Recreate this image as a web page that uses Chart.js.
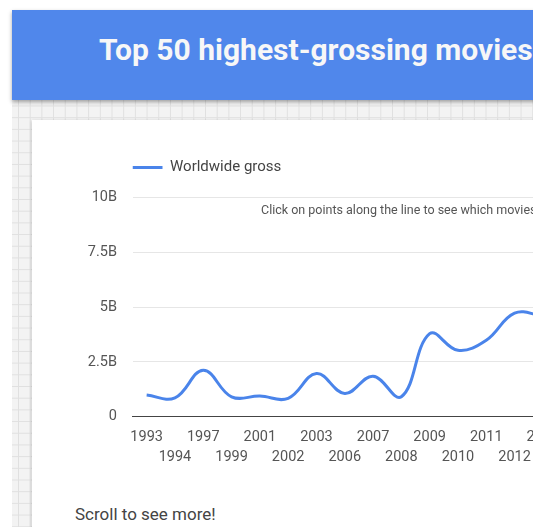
<!DOCTYPE html>
<html>
<head>
<meta charset="utf-8">
<title>Top 50 highest-grossing movies</title>
<script src="https://cdn.jsdelivr.net/npm/chart.js@4.4.0/dist/chart.umd.min.js"></script>
<style>
html, body { margin: 0; padding: 0; width: 533px; height: 527px; overflow: hidden; background: #fff; font-family: Roboto, sans-serif; }
#paper {
  position: absolute; left: 12px; top: 10px; width: 620px; height: 620px;
  background-color: #f3f3f3;
  background-image: linear-gradient(#e0e0e0 1px, transparent 1px), linear-gradient(90deg, #e0e0e0 1px, transparent 1px);
  background-size: 11.7px 11.7px;
  background-position: 6px 2px;
}
#header { position: absolute; left: 12px; top: 10px; width: 620px; height: 90px; background: #5087eb; box-shadow: 0 2px 4px rgba(0,0,0,.35); z-index: 2; }
#header h1 { margin: 0; position: absolute; left: 87px; top: 25px; font-size: 30px; line-height: 30px; font-weight: 700; color: #f7f7f7; white-space: nowrap; }
#card { position: absolute; left: 32px; top: 120px; width: 620px; height: 500px; background: #fff; box-shadow: 0 1px 3px rgba(0,0,0,.25); }
#chart { position: absolute; left: 32px; top: 120px; }
#note { position: absolute; left: 261px; top: 202px; font-size: 12.5px; line-height: 16px; color: #555; white-space: nowrap; }
#scroll { position: absolute; left: 75px; top: 504px; font-size: 17px; line-height: 20px; color: #444; white-space: nowrap; }
</style>
</head>
<body>
<div id="paper"></div>
<div id="header"><h1>Top 50 highest-grossing movies</h1></div>
<div id="card"></div>
<canvas id="chart" width="560" height="360"></canvas>
<div id="note">Click on points along the line to see which movies</div>
<div id="scroll">Scroll to see more!</div>
<script>
// years shown on the axis and summed worldwide gross (billions of dollars)
const years = ['1993', '1994', '1997', '1999', '2001', '2002', '2003', '2006', '2007', '2008', '2009', '2010', '2011', '2012', '2013'];
const grossBillions = [0.99, 0.86, 2.12, 0.91, 0.94, 0.84, 1.97, 1.06, 1.85, 0.91, 3.79, 3.03, 3.49, 4.73, 4.6];
const yTicks = [0, 2.5, 5, 7.5, 10];

const lineColor = '#4a84ea';

// push the plot a bit further below the legend
const legendGap = {
  id: 'legendGap',
  beforeInit(chart) {
    const fit = chart.legend.fit;
    chart.legend.fit = function () {
      fit.bind(chart.legend)();
      this.height += 12.7;
    };
  }
};

const canvas = document.getElementById('chart');
new Chart(canvas, {
  type: 'line',
  data: {
    labels: years,
    datasets: [{
      label: 'Worldwide gross',
      data: grossBillions,
      borderColor: lineColor,
      backgroundColor: lineColor,
      borderWidth: 3,
      tension: 0.4,
      pointRadius: 0,
      pointHoverRadius: 0,
      fill: false
    }]
  },
  options: {
    responsive: false,
    animation: false,
    layout: { padding: { left: 0, top: 40, right: 35, bottom: 15 } },
    scales: {
      x: {
        offset: true,
        grid: { display: false, drawTicks: false },
        border: { display: true, color: '#444', width: 1 },
        afterFit: s => { s.height = 48.3; },
        ticks: {
          autoSkip: false,
          maxRotation: 0,
          padding: 10.3,
          color: '#555',
          font: { family: 'Roboto', size: 14.5, lineHeight: 20 / 14.5 },
          callback: (v, i) => i % 2 === 0 ? [years[i], ''] : ['', years[i]]
        }
      },
      y: {
        min: 0,
        max: 10,
        border: { display: false },
        grid: { color: '#e6e6e6', drawTicks: false },
        afterFit: s => { s.width = 100.5; },
        afterBuildTicks: s => { s.ticks = yTicks.map(v => ({ value: v })); },
        ticks: {
          padding: 15.5,
          color: '#555',
          font: { family: 'Roboto', size: 14.5 },
          callback: v => v === 0 ? '0' : v + 'B'
        }
      }
    },
    plugins: {
      legend: {
        position: 'top',
        align: 'start',
        fullSize: false,
        labels: {
          usePointStyle: true,
          pointStyle: 'line',
          pointStyleWidth: 30,
          padding: 0,
          color: '#444',
          font: { family: 'Roboto', size: 15 }
        }
      },
      tooltip: { enabled: true }
    }
  },
  plugins: [legendGap]
});
</script>
</body>
</html>
